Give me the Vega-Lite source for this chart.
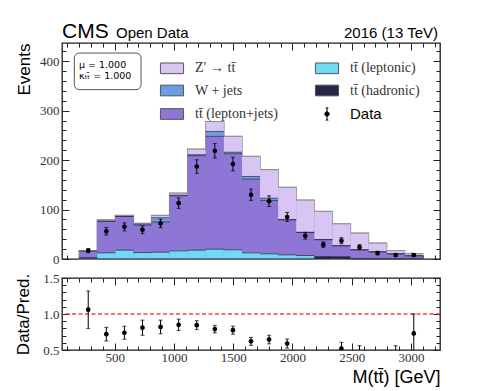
{
  "$schema": "https://vega.github.io/schema/vega-lite/v6.json",
  "padding": {"left": 14, "top": 20, "right": 5, "bottom": 2},
  "background": "white",
  "spacing": 4,
  "config": {
    "view": {"stroke": "#1a1a1a", "strokeWidth": 1.3},
    "axis": {"domain": false, "grid": false, "labelFont": "Liberation Serif", "labelFontSize": 13, "labelColor": "#333", "tickColor": "#222", "tickWidth": 1, "titleFont": "Liberation Sans", "titleFontWeight": "normal", "titleColor": "#000", "labelOverlap": false, "labelFlush": false}
  },
  "datasets": {
    "stack": [
      {"bin":1,"start":200,"end":352.6,"process":"tt̄ (hadronic)","order":1,"events":1.5},
      {"bin":1,"start":200,"end":352.6,"process":"tt̄ (leptonic)","order":2,"events":1},
      {"bin":1,"start":200,"end":352.6,"process":"tt̄ (lepton+jets)","order":3,"events":13.5},
      {"bin":1,"start":200,"end":352.6,"process":"W + jets","order":4,"events":0.3},
      {"bin":1,"start":200,"end":352.6,"process":"Z′ → tt̄","order":5,"events":0.2},
      {"bin":2,"start":352.6,"end":505.3,"process":"tt̄ (hadronic)","order":1,"events":0.3},
      {"bin":2,"start":352.6,"end":505.3,"process":"tt̄ (leptonic)","order":2,"events":12.2},
      {"bin":2,"start":352.6,"end":505.3,"process":"tt̄ (lepton+jets)","order":3,"events":63.5},
      {"bin":2,"start":352.6,"end":505.3,"process":"W + jets","order":4,"events":1},
      {"bin":2,"start":352.6,"end":505.3,"process":"Z′ → tt̄","order":5,"events":2},
      {"bin":3,"start":505.3,"end":657.9,"process":"tt̄ (hadronic)","order":1,"events":0.3},
      {"bin":3,"start":505.3,"end":657.9,"process":"tt̄ (leptonic)","order":2,"events":17.6},
      {"bin":3,"start":505.3,"end":657.9,"process":"tt̄ (lepton+jets)","order":3,"events":68.1},
      {"bin":3,"start":505.3,"end":657.9,"process":"W + jets","order":4,"events":0.5},
      {"bin":3,"start":505.3,"end":657.9,"process":"Z′ → tt̄","order":5,"events":1.5},
      {"bin":4,"start":657.9,"end":810.5,"process":"tt̄ (hadronic)","order":1,"events":0.3},
      {"bin":4,"start":657.9,"end":810.5,"process":"tt̄ (leptonic)","order":2,"events":12.7},
      {"bin":4,"start":657.9,"end":810.5,"process":"tt̄ (lepton+jets)","order":3,"events":55.5},
      {"bin":4,"start":657.9,"end":810.5,"process":"W + jets","order":4,"events":2.5},
      {"bin":4,"start":657.9,"end":810.5,"process":"Z′ → tt̄","order":5,"events":1},
      {"bin":5,"start":810.5,"end":963.2,"process":"tt̄ (hadronic)","order":1,"events":0.3},
      {"bin":5,"start":810.5,"end":963.2,"process":"tt̄ (leptonic)","order":2,"events":13.5},
      {"bin":5,"start":810.5,"end":963.2,"process":"tt̄ (lepton+jets)","order":3,"events":61.2},
      {"bin":5,"start":810.5,"end":963.2,"process":"W + jets","order":4,"events":8.5},
      {"bin":5,"start":810.5,"end":963.2,"process":"Z′ → tt̄","order":5,"events":4.5},
      {"bin":6,"start":963.2,"end":1115.8,"process":"tt̄ (hadronic)","order":1,"events":0.3},
      {"bin":6,"start":963.2,"end":1115.8,"process":"tt̄ (leptonic)","order":2,"events":16.2},
      {"bin":6,"start":963.2,"end":1115.8,"process":"tt̄ (lepton+jets)","order":3,"events":111.5},
      {"bin":6,"start":963.2,"end":1115.8,"process":"W + jets","order":4,"events":1},
      {"bin":6,"start":963.2,"end":1115.8,"process":"Z′ → tt̄","order":5,"events":4},
      {"bin":7,"start":1115.8,"end":1268.4,"process":"tt̄ (hadronic)","order":1,"events":0.3},
      {"bin":7,"start":1115.8,"end":1268.4,"process":"tt̄ (leptonic)","order":2,"events":17.6},
      {"bin":7,"start":1115.8,"end":1268.4,"process":"tt̄ (lepton+jets)","order":3,"events":191.1},
      {"bin":7,"start":1115.8,"end":1268.4,"process":"W + jets","order":4,"events":2},
      {"bin":7,"start":1115.8,"end":1268.4,"process":"Z′ → tt̄","order":5,"events":11},
      {"bin":8,"start":1268.4,"end":1421.1,"process":"tt̄ (hadronic)","order":1,"events":0.3},
      {"bin":8,"start":1268.4,"end":1421.1,"process":"tt̄ (leptonic)","order":2,"events":19.6},
      {"bin":8,"start":1268.4,"end":1421.1,"process":"tt̄ (lepton+jets)","order":3,"events":228.1},
      {"bin":8,"start":1268.4,"end":1421.1,"process":"W + jets","order":4,"events":10},
      {"bin":8,"start":1268.4,"end":1421.1,"process":"Z′ → tt̄","order":5,"events":20},
      {"bin":9,"start":1421.1,"end":1573.7,"process":"tt̄ (hadronic)","order":1,"events":0.3},
      {"bin":9,"start":1421.1,"end":1573.7,"process":"tt̄ (leptonic)","order":2,"events":18.3},
      {"bin":9,"start":1421.1,"end":1573.7,"process":"tt̄ (lepton+jets)","order":3,"events":194.4},
      {"bin":9,"start":1421.1,"end":1573.7,"process":"W + jets","order":4,"events":3},
      {"bin":9,"start":1421.1,"end":1573.7,"process":"Z′ → tt̄","order":5,"events":32},
      {"bin":10,"start":1573.7,"end":1726.3,"process":"tt̄ (hadronic)","order":1,"events":0.3},
      {"bin":10,"start":1573.7,"end":1726.3,"process":"tt̄ (leptonic)","order":2,"events":12.2},
      {"bin":10,"start":1573.7,"end":1726.3,"process":"tt̄ (lepton+jets)","order":3,"events":149},
      {"bin":10,"start":1573.7,"end":1726.3,"process":"W + jets","order":4,"events":5.5},
      {"bin":10,"start":1573.7,"end":1726.3,"process":"Z′ → tt̄","order":5,"events":40.5},
      {"bin":11,"start":1726.3,"end":1878.9,"process":"tt̄ (hadronic)","order":1,"events":0.3},
      {"bin":11,"start":1726.3,"end":1878.9,"process":"tt̄ (leptonic)","order":2,"events":10.2},
      {"bin":11,"start":1726.3,"end":1878.9,"process":"tt̄ (lepton+jets)","order":3,"events":107.9},
      {"bin":11,"start":1726.3,"end":1878.9,"process":"W + jets","order":4,"events":4.6},
      {"bin":11,"start":1726.3,"end":1878.9,"process":"Z′ → tt̄","order":5,"events":57.5},
      {"bin":12,"start":1878.9,"end":2031.6,"process":"tt̄ (hadronic)","order":1,"events":0.3},
      {"bin":12,"start":1878.9,"end":2031.6,"process":"tt̄ (leptonic)","order":2,"events":8.1},
      {"bin":12,"start":1878.9,"end":2031.6,"process":"tt̄ (lepton+jets)","order":3,"events":70.6},
      {"bin":12,"start":1878.9,"end":2031.6,"process":"W + jets","order":4,"events":1},
      {"bin":12,"start":1878.9,"end":2031.6,"process":"Z′ → tt̄","order":5,"events":65},
      {"bin":13,"start":2031.6,"end":2184.2,"process":"tt̄ (hadronic)","order":1,"events":0.5},
      {"bin":13,"start":2031.6,"end":2184.2,"process":"tt̄ (leptonic)","order":2,"events":6.5},
      {"bin":13,"start":2031.6,"end":2184.2,"process":"tt̄ (lepton+jets)","order":3,"events":46.6},
      {"bin":13,"start":2031.6,"end":2184.2,"process":"W + jets","order":4,"events":0.5},
      {"bin":13,"start":2031.6,"end":2184.2,"process":"Z′ → tt̄","order":5,"events":64.9},
      {"bin":14,"start":2184.2,"end":2336.8,"process":"tt̄ (hadronic)","order":1,"events":4},
      {"bin":14,"start":2184.2,"end":2336.8,"process":"tt̄ (leptonic)","order":2,"events":1},
      {"bin":14,"start":2184.2,"end":2336.8,"process":"tt̄ (lepton+jets)","order":3,"events":34},
      {"bin":14,"start":2184.2,"end":2336.8,"process":"W + jets","order":4,"events":0.5},
      {"bin":14,"start":2184.2,"end":2336.8,"process":"Z′ → tt̄","order":5,"events":56.5},
      {"bin":15,"start":2336.8,"end":2489.5,"process":"tt̄ (hadronic)","order":1,"events":4},
      {"bin":15,"start":2336.8,"end":2489.5,"process":"tt̄ (leptonic)","order":2,"events":0.5},
      {"bin":15,"start":2336.8,"end":2489.5,"process":"tt̄ (lepton+jets)","order":3,"events":22.2},
      {"bin":15,"start":2336.8,"end":2489.5,"process":"W + jets","order":4,"events":0.3},
      {"bin":15,"start":2336.8,"end":2489.5,"process":"Z′ → tt̄","order":5,"events":44},
      {"bin":16,"start":2489.5,"end":2642.1,"process":"tt̄ (hadronic)","order":1,"events":0.5},
      {"bin":16,"start":2489.5,"end":2642.1,"process":"tt̄ (leptonic)","order":2,"events":0.2},
      {"bin":16,"start":2489.5,"end":2642.1,"process":"tt̄ (lepton+jets)","order":3,"events":17.9},
      {"bin":16,"start":2489.5,"end":2642.1,"process":"W + jets","order":4,"events":0.2},
      {"bin":16,"start":2489.5,"end":2642.1,"process":"Z′ → tt̄","order":5,"events":33.2},
      {"bin":17,"start":2642.1,"end":2794.7,"process":"tt̄ (hadronic)","order":1,"events":0.3},
      {"bin":17,"start":2642.1,"end":2794.7,"process":"tt̄ (leptonic)","order":2,"events":0.2},
      {"bin":17,"start":2642.1,"end":2794.7,"process":"tt̄ (lepton+jets)","order":3,"events":14},
      {"bin":17,"start":2642.1,"end":2794.7,"process":"W + jets","order":4,"events":0.2},
      {"bin":17,"start":2642.1,"end":2794.7,"process":"Z′ → tt̄","order":5,"events":17.3},
      {"bin":18,"start":2794.7,"end":2947.4,"process":"tt̄ (hadronic)","order":1,"events":0.3},
      {"bin":18,"start":2794.7,"end":2947.4,"process":"tt̄ (leptonic)","order":2,"events":0.1},
      {"bin":18,"start":2794.7,"end":2947.4,"process":"tt̄ (lepton+jets)","order":3,"events":10.1},
      {"bin":18,"start":2794.7,"end":2947.4,"process":"W + jets","order":4,"events":0.1},
      {"bin":18,"start":2794.7,"end":2947.4,"process":"Z′ → tt̄","order":5,"events":6.4},
      {"bin":19,"start":2947.4,"end":3100,"process":"tt̄ (hadronic)","order":1,"events":0.3},
      {"bin":19,"start":2947.4,"end":3100,"process":"tt̄ (leptonic)","order":2,"events":0.1},
      {"bin":19,"start":2947.4,"end":3100,"process":"tt̄ (lepton+jets)","order":3,"events":6.1},
      {"bin":19,"start":2947.4,"end":3100,"process":"W + jets","order":4,"events":0.1},
      {"bin":19,"start":2947.4,"end":3100,"process":"Z′ → tt̄","order":5,"events":3.9}
    ],
    "obs": [
      {"bin":1,"center":276.3,"events":17,"low":12.9,"high":21.1,"ratio":1.06,"rlow":0.8,"rhigh":1.32},
      {"bin":2,"center":428.9,"events":56,"low":48.5,"high":63.5,"ratio":0.72,"rlow":0.625,"rhigh":0.815},
      {"bin":3,"center":581.6,"events":65,"low":56.9,"high":73.1,"ratio":0.74,"rlow":0.65,"rhigh":0.83},
      {"bin":4,"center":734.2,"events":59,"low":51.3,"high":66.7,"ratio":0.81,"rlow":0.705,"rhigh":0.915},
      {"bin":5,"center":886.8,"events":72,"low":63.5,"high":80.5,"ratio":0.82,"rlow":0.725,"rhigh":0.915},
      {"bin":6,"center":1039.5,"events":113,"low":102.4,"high":123.6,"ratio":0.85,"rlow":0.77,"rhigh":0.93},
      {"bin":7,"center":1192.1,"events":187,"low":173.3,"high":200.7,"ratio":0.845,"rlow":0.783,"rhigh":0.907},
      {"bin":8,"center":1344.7,"events":219,"low":204.2,"high":233.8,"ratio":0.79,"rlow":0.737,"rhigh":0.843},
      {"bin":9,"center":1497.4,"events":192,"low":178.1,"high":205.9,"ratio":0.775,"rlow":0.719,"rhigh":0.831},
      {"bin":10,"center":1650,"events":130,"low":118.6,"high":141.4,"ratio":0.62,"rlow":0.565,"rhigh":0.675},
      {"bin":11,"center":1802.6,"events":117,"low":106.2,"high":127.8,"ratio":0.645,"rlow":0.585,"rhigh":0.705},
      {"bin":12,"center":1955.3,"events":85,"low":75.8,"high":94.2,"ratio":0.59,"rlow":0.527,"rhigh":0.653},
      {"bin":13,"center":2107.9,"events":47,"low":40.1,"high":53.9,"ratio":0.395,"rlow":0.337,"rhigh":0.453},
      {"bin":14,"center":2260.5,"events":29,"low":23.6,"high":34.4,"ratio":0.3,"rlow":0.244,"rhigh":0.356},
      {"bin":15,"center":2413.2,"events":37,"low":30.9,"high":43.1,"ratio":0.52,"rlow":0.434,"rhigh":0.606},
      {"bin":16,"center":2565.8,"events":24,"low":19.1,"high":28.9,"ratio":0.46,"rlow":0.366,"rhigh":0.56},
      {"bin":17,"center":2718.4,"events":12,"low":8.5,"high":15.5,"ratio":0.375,"rlow":0.265,"rhigh":0.485},
      {"bin":18,"center":2871.1,"events":8,"low":5.2,"high":10.8,"ratio":0.4,"rlow":0.24,"rhigh":0.56},
      {"bin":19,"center":3023.7,"events":8,"low":5.2,"high":10.8,"ratio":0.73,"rlow":0.46,"rhigh":1.0}
    ]
  },
  "vconcat": [
    {
      "width": 378,
      "height": 216,
      "layer": [
        {
          "data": {"name": "stack"},
          "transform": [{"aggregate": [{"op": "sum", "field": "events", "as": "total"}], "groupby": ["bin", "start", "end"]}],
          "mark": {"type": "bar", "fill": "white", "fillOpacity": 0, "stroke": "#8a8a8a", "strokeWidth": 1.4},
          "encoding": {
            "x": {"field": "start", "type": "quantitative", "scale": {"domain": [55, 3245], "nice": false, "zero": false}, "axis": null},
            "x2": {"field": "end"},
            "y": {"field": "total", "type": "quantitative", "scale": {"domain": [0, 437], "nice": false}, "axis": null},
            "y2": {"datum": 0}
          }
        },
        {
          "data": {"name": "stack"},
          "transform": [{"stack": "events", "groupby": ["bin"], "sort": [{"field": "order", "order": "ascending"}], "as": ["y0", "y1"]}],
          "mark": {"type": "bar", "opacity": 1},
          "encoding": {
            "x": {"field": "start", "type": "quantitative", "scale": {"domain": [55, 3245], "nice": false, "zero": false},
              "axis": {"orient": "bottom", "labels": false, "title": null,
                "values": [100,200,300,400,500,600,700,800,900,1000,1100,1200,1300,1400,1500,1600,1700,1800,1900,2000,2100,2200,2300,2400,2500,2600,2700,2800,2900,3000,3100,3200],
                "tickSize": {"condition": {"test": "datum.value % 500 === 0", "value": -7}, "value": -4}}},
            "x2": {"field": "end"},
            "y": {"field": "y0", "type": "quantitative", "scale": {"domain": [0, 437], "nice": false},
              "axis": {"orient": "left", "title": "Events", "titleAnchor": "end", "titleFontSize": 17, "titlePadding": 6,
                "values": [0,20,40,60,80,100,120,140,160,180,200,220,240,260,280,300,320,340,360,380,400,420],
                "labelExpr": "datum.value % 100 === 0 ? datum.label : ''",
                "labelPadding": 10,
                "tickSize": {"condition": {"test": "datum.value % 100 === 0", "value": -7}, "value": -4}}},
            "y2": {"field": "y1"},
            "color": {"field": "process", "type": "nominal",
              "scale": {"domain": ["Z′ → tt̄", "W + jets", "tt̄ (lepton+jets)", "tt̄ (leptonic)", "tt̄ (hadronic)", "Data"],
                "range": ["#d8c5f4", "#6c9de3", "#8e76d7", "#70daf6", "#26264a", "#000000"]},
              "legend": {"orient": "none", "legendX": 103, "legendY": 18, "columns": 2, "title": null,
                "symbolType": "M-2.1,-0.97H2.1V0.97H-2.1Z", "symbolSize": 121, "symbolStrokeWidth": 1, "symbolStrokeColor": "#555", "symbolOpacity": 1,
                "labelFont": "Liberation Serif", "labelFontSize": 14, "labelColor": "#333", "labelOffset": 16, "rowPadding": 6.5, "columnPadding": 35, "labelLimit": 300,
                "encode": {
                  "symbols": {"update": {
                    "shape": {"signal": "datum.value === 'Data' ? 'M0,-1.1L0,1.1M-0.25,-1.1L0.25,-1.1M-0.25,1.1L0.25,1.1M-0.4,0A0.4,0.4 0 1,0 0.4,0A0.4,0.4 0 1,0 -0.4,0' : 'M-2.1,-0.97H2.1V0.97H-2.1Z'"},
                    "stroke": {"signal": "datum.value === 'Data' ? '#000' : '#555'"}
                  }},
                  "labels": {"update": {
                    "font": {"signal": "datum.value === 'Data' ? 'Liberation Sans' : 'Liberation Serif'"},
                    "fill": {"signal": "datum.value === 'Data' ? '#000' : '#333'"},
                    "fontSize": {"signal": "datum.value === 'Data' ? 15 : 14"}
                  }}
                }}}
          }
        },
        {
          "data": {"name": "stack"},
          "transform": [{"stack": "events", "groupby": ["bin"], "sort": [{"field": "order", "order": "ascending"}], "as": ["y0", "y1"]}],
          "mark": {"type": "rule", "strokeWidth": 1, "opacity": 0.75},
          "encoding": {
            "x": {"field": "start", "type": "quantitative", "scale": {"domain": [55, 3245], "nice": false, "zero": false}, "axis": null},
            "x2": {"field": "end"},
            "y": {"field": "y1", "type": "quantitative", "scale": {"domain": [0, 437], "nice": false}, "axis": null},
            "color": {"condition": {"test": "datum.order === 5", "value": "#8a8a8a"}, "value": "#2a2a40"}
          }
        },
        {
          "data": {"name": "obs"},
          "mark": {"type": "rule", "color": "#000", "strokeWidth": 1},
          "encoding": {
            "x": {"field": "center", "type": "quantitative", "scale": {"domain": [55, 3245], "nice": false, "zero": false}, "axis": null},
            "y": {"field": "low", "type": "quantitative", "scale": {"domain": [0, 437], "nice": false}, "axis": null},
            "y2": {"field": "high"}
          }
        },
        {
          "data": {"name": "obs"},
          "mark": {"type": "tick", "orient": "horizontal", "color": "#000", "size": 4, "thickness": 1},
          "encoding": {
            "x": {"field": "center", "type": "quantitative", "scale": {"domain": [55, 3245], "nice": false, "zero": false}, "axis": null},
            "y": {"field": "low", "type": "quantitative", "scale": {"domain": [0, 437], "nice": false}, "axis": null}
          }
        },
        {
          "data": {"name": "obs"},
          "mark": {"type": "tick", "orient": "horizontal", "color": "#000", "size": 4, "thickness": 1},
          "encoding": {
            "x": {"field": "center", "type": "quantitative", "scale": {"domain": [55, 3245], "nice": false, "zero": false}, "axis": null},
            "y": {"field": "high", "type": "quantitative", "scale": {"domain": [0, 437], "nice": false}, "axis": null}
          }
        },
        {
          "data": {"name": "obs"},
          "mark": {"type": "circle", "color": "#000", "opacity": 1, "size": 22},
          "encoding": {
            "x": {"field": "center", "type": "quantitative", "scale": {"domain": [55, 3245], "nice": false, "zero": false},
              "axis": {"orient": "top", "labels": false, "title": null,
                "values": [100,200,300,400,500,600,700,800,900,1000,1100,1200,1300,1400,1500,1600,1700,1800,1900,2000,2100,2200,2300,2400,2500,2600,2700,2800,2900,3000,3100,3200],
                "tickSize": {"condition": {"test": "datum.value % 500 === 0", "value": -7}, "value": -4}}},
            "y": {"field": "events", "type": "quantitative", "scale": {"domain": [0, 437], "nice": false},
              "axis": {"orient": "right", "labels": false, "title": null,
                "values": [0,20,40,60,80,100,120,140,160,180,200,220,240,260,280,300,320,340,360,380,400,420],
                "tickSize": {"condition": {"test": "datum.value % 100 === 0", "value": -7}, "value": -4}}}
          }
        },
        {
          "data": {"values": [{}]},
          "mark": {"type": "rect", "fill": "white", "stroke": "#555", "strokeWidth": 1, "cornerRadius": 5},
          "encoding": {
            "x": {"datum": 159, "type": "quantitative", "scale": {"domain": [55, 3245], "nice": false, "zero": false}, "axis": null},
            "x2": {"datum": 722},
            "y": {"datum": 416.7, "type": "quantitative", "scale": {"domain": [0, 437], "nice": false}, "axis": null},
            "y2": {"datum": 342.6}
          }
        },
        {
          "data": {"values": [{"label": "μ = 1.000", "row": 387}, {"label": "κₜₜ̄ = 1.000", "row": 364}]},
          "mark": {"type": "text", "align": "left", "baseline": "alphabetic", "font": "DejaVu Sans", "fontSize": 9.5, "color": "#000"},
          "encoding": {
            "x": {"datum": 198, "type": "quantitative", "scale": {"domain": [55, 3245], "nice": false, "zero": false}, "axis": null},
            "y": {"field": "row", "type": "quantitative", "scale": {"domain": [0, 437], "nice": false}, "axis": null},
            "text": {"field": "label"}
          }
        },
        {
          "data": {"values": [{}]},
          "mark": {"type": "text", "text": "CMS", "align": "left", "baseline": "alphabetic", "dy": -5, "font": "Liberation Sans", "fontSize": 21, "color": "#000"},
          "encoding": {
            "x": {"datum": 55, "type": "quantitative", "scale": {"domain": [55, 3245], "nice": false, "zero": false}, "axis": null},
            "y": {"datum": 437, "type": "quantitative", "scale": {"domain": [0, 437], "nice": false}, "axis": null}
          }
        },
        {
          "data": {"values": [{}]},
          "mark": {"type": "text", "text": "Open Data", "align": "left", "baseline": "alphabetic", "dx": 54, "dy": -5, "font": "Liberation Sans", "fontSize": 15, "color": "#000"},
          "encoding": {
            "x": {"datum": 55, "type": "quantitative", "scale": {"domain": [55, 3245], "nice": false, "zero": false}, "axis": null},
            "y": {"datum": 437, "type": "quantitative", "scale": {"domain": [0, 437], "nice": false}, "axis": null}
          }
        },
        {
          "data": {"values": [{}]},
          "mark": {"type": "text", "text": "2016 (13 TeV)", "align": "right", "baseline": "alphabetic", "dx": -2, "dy": -5, "font": "Liberation Sans", "fontSize": 15, "color": "#000"},
          "encoding": {
            "x": {"datum": 3245, "type": "quantitative", "scale": {"domain": [55, 3245], "nice": false, "zero": false}, "axis": null},
            "y": {"datum": 437, "type": "quantitative", "scale": {"domain": [0, 437], "nice": false}, "axis": null}
          }
        }
      ],
      "resolve": {"axis": {"x": "independent", "y": "independent"}}
    },
    {
      "width": 378,
      "height": 72,
      "layer": [
        {
          "data": {"values": [{}]},
          "mark": {"type": "rule", "color": "#ff2020", "strokeWidth": 1.3, "strokeDash": [4, 2.5], "opacity": 0.85},
          "encoding": {
            "y": {"datum": 1, "type": "quantitative", "scale": {"domain": [0.5, 1.5], "nice": false, "zero": false}, "axis": null}
          }
        },
        {
          "data": {"name": "obs"},
          "mark": {"type": "rule", "color": "#000", "strokeWidth": 1, "clip": true},
          "encoding": {
            "x": {"field": "center", "type": "quantitative", "scale": {"domain": [55, 3245], "nice": false, "zero": false},
              "axis": {"orient": "bottom", "title": "M(tt̄) [GeV]", "titleAnchor": "end", "titleFontSize": 18, "titlePadding": 1, "labelPadding": 8,
                "values": [100,200,300,400,500,600,700,800,900,1000,1100,1200,1300,1400,1500,1600,1700,1800,1900,2000,2100,2200,2300,2400,2500,2600,2700,2800,2900,3000,3100,3200],
                "labelExpr": "datum.value % 500 === 0 ? datum.label : ''",
                "format": "d",
                "tickSize": {"condition": {"test": "datum.value % 500 === 0", "value": -7}, "value": -4}}},
            "y": {"field": "rlow", "type": "quantitative", "scale": {"domain": [0.5, 1.5], "nice": false, "zero": false},
              "axis": {"orient": "left", "title": "Data/Pred.", "titleFontSize": 17, "titlePadding": 10, "labelPadding": 10, "format": ".1f",
                "values": [0.5,0.6,0.7,0.8,0.9,1,1.1,1.2,1.3,1.4,1.5],
                "labelExpr": "(datum.value === 0.5 || datum.value === 1 || datum.value === 1.5) ? datum.label : ''",
                "tickSize": {"condition": {"test": "datum.value === 0.5 || datum.value === 1 || datum.value === 1.5", "value": -7}, "value": -4}}},
            "y2": {"field": "rhigh"}
          }
        },
        {
          "data": {"name": "obs"},
          "mark": {"type": "tick", "orient": "horizontal", "color": "#000", "size": 4, "thickness": 1, "clip": true},
          "encoding": {
            "x": {"field": "center", "type": "quantitative", "scale": {"domain": [55, 3245], "nice": false, "zero": false}, "axis": null},
            "y": {"field": "rlow", "type": "quantitative", "scale": {"domain": [0.5, 1.5], "nice": false, "zero": false}, "axis": null}
          }
        },
        {
          "data": {"name": "obs"},
          "mark": {"type": "tick", "orient": "horizontal", "color": "#000", "size": 4, "thickness": 1, "clip": true},
          "encoding": {
            "x": {"field": "center", "type": "quantitative", "scale": {"domain": [55, 3245], "nice": false, "zero": false}, "axis": null},
            "y": {"field": "rhigh", "type": "quantitative", "scale": {"domain": [0.5, 1.5], "nice": false, "zero": false}, "axis": null}
          }
        },
        {
          "data": {"name": "obs"},
          "mark": {"type": "circle", "color": "#000", "opacity": 1, "size": 22, "clip": true},
          "encoding": {
            "x": {"field": "center", "type": "quantitative", "scale": {"domain": [55, 3245], "nice": false, "zero": false},
              "axis": {"orient": "top", "labels": false, "title": null,
                "values": [100,200,300,400,500,600,700,800,900,1000,1100,1200,1300,1400,1500,1600,1700,1800,1900,2000,2100,2200,2300,2400,2500,2600,2700,2800,2900,3000,3100,3200],
                "tickSize": {"condition": {"test": "datum.value % 500 === 0", "value": -7}, "value": -4}}},
            "y": {"field": "ratio", "type": "quantitative", "scale": {"domain": [0.5, 1.5], "nice": false, "zero": false},
              "axis": {"orient": "right", "labels": false, "title": null,
                "values": [0.5,0.6,0.7,0.8,0.9,1,1.1,1.2,1.3,1.4,1.5],
                "tickSize": {"condition": {"test": "datum.value === 0.5 || datum.value === 1 || datum.value === 1.5", "value": -7}, "value": -4}}}
          }
        }
      ],
      "resolve": {"axis": {"x": "independent", "y": "independent"}}
    }
  ]
}
